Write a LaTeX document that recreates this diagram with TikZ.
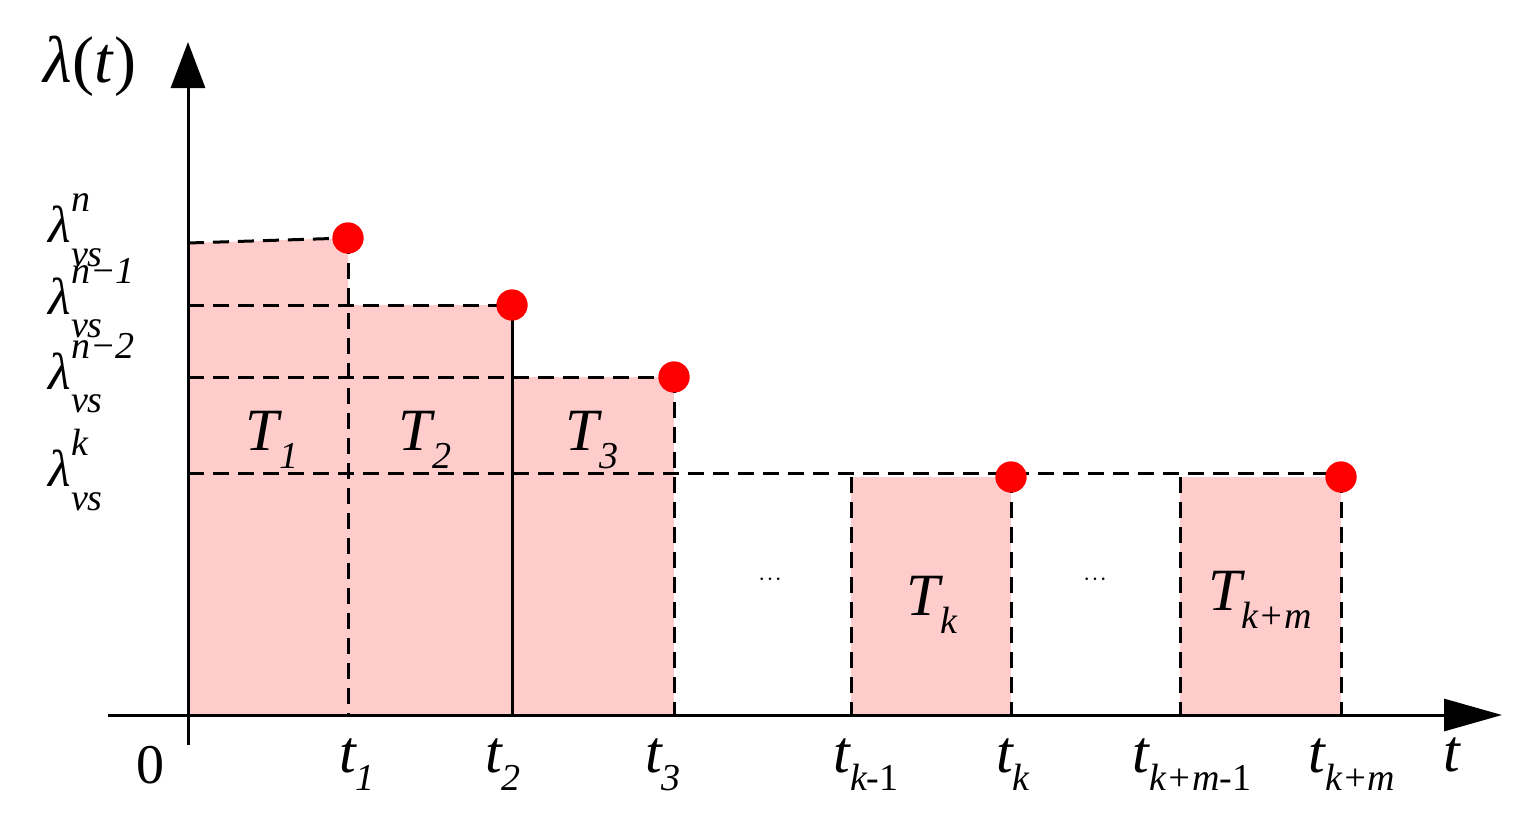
\documentclass[tikz,border=0pt]{standalone}
\usepackage{fontspec}
\setmainfont{Liberation Serif}
\usetikzlibrary{arrows.meta}
\definecolor{pinkfill}{RGB}{255,204,204}
\newcommand{\myss}[1]{{\fontsize{38}{38}\selectfont\itshape #1}}
\newcommand{\mysub}[1]{\raisebox{-0.3em}{\myss{#1}}}
\newcommand{\lam}[1]{\textit{λ}\rlap{\raisebox{0.6em}{\myss{#1}}}\raisebox{-0.45em}{\myss{vs}}}
\tikzset{
  dsh/.style={line width=3pt,dash pattern=on 16pt off 9pt},
  sol/.style={line width=3pt},
  pt/.style={circle,fill=red,inner sep=0pt,minimum size=31pt},
  big/.style={font=\fontsize{60}{60}\selectfont\itshape},
  lab/.style={font=\fontsize{52}{52}\selectfont},
}
\begin{document}
\begin{tikzpicture}[x=1pt,y=-1pt]
\useasboundingbox (0,0) rectangle (1525,819);
\fill[pinkfill] (188,243) -- (348,238) -- (348,715) -- (188,715) -- cycle;
\fill[pinkfill] (348,305) rectangle (512,715);
\fill[pinkfill] (512,377) rectangle (674,715);
\fill[pinkfill] (851,477) rectangle (1011,715);
\fill[pinkfill] (1180,477) rectangle (1341,715);
\node[pt] (d1) at (348,238) {};
\node[pt] (d2) at (512,305) {};
\node[pt] (d3) at (674,377) {};
\node[pt] (d4) at (1011,477) {};
\node[pt] (d5) at (1341,477) {};
\coordinate (b1) at (348,715); \coordinate (b2) at (512,715);
\coordinate (b3) at (674,715); \coordinate (b4) at (1011,715);
\coordinate (b5) at (1341,715);
\coordinate (l1) at (188,243); \coordinate (l2) at (188,305);
\coordinate (l3) at (188,377); \coordinate (l4) at (188,473);
\draw[dsh] (l1) -- (d1.center);
\draw[dsh] (l2) -- (d2.center);
\draw[dsh] (l3) -- (d3.center);
\draw[dsh] (l4) -- (1341,473);
\draw[dsh] (d1.center) -- (b1);
\draw[sol] (d2.center) -- (b2);
\draw[dsh] (d3.center) -- (b3);
\draw[dsh] (851,477) -- (851,715);
\draw[dsh] (d4.center) -- (b4);
\draw[dsh] (1180,477) -- (1180,715);
\draw[dsh] (d5.center) -- (b5);
\foreach \p in {(348,238),(512,305),(674,377),(1011,477),(1341,477)} \node[pt] at \p {};
\coordinate (o) at (188,745); \coordinate (ytip) at (188,42);
\coordinate (xs) at (108,715); \coordinate (xtip) at (1502,715);
\draw[sol,-{Triangle[length=46pt,width=34pt]}] (o) -- (ytip);
\draw[sol,-{Triangle[length=58pt,width=32pt]}] (xs) -- (xtip);
\node[font=\fontsize{66}{66}\selectfont] at (90,66) {\textit{λ}(\textit{t})};
\node[lab,anchor=west] (ln) at (45,230) {\lam{n}};
\node[lab,anchor=west] (ln1) at (45,298) {\lam{n−1}};
\node[lab,anchor=west] (ln2) at (45,373) {\lam{n−2}};
\node[lab,anchor=west] (lk) at (45,470) {\lam{k}};
\node[big] at (272,440) {T\mysub{1}};
\node[big] at (425,440) {T\mysub{2}};
\node[big] at (592,440) {T\mysub{3}};
\node[big] at (932,605) {T\mysub{k}};
\node[big] at (1260,600) {T\mysub{k+m}};
\node[font=\fontsize{60}{60}\selectfont] at (770,580) {$\cdot\!\cdot\!\cdot$};
\node[font=\fontsize{60}{60}\selectfont] at (1095,580) {$\cdot\!\cdot\!\cdot$};
\node[font=\fontsize{56}{56}\selectfont] at (150,765) {0};
\node[big] at (357,765) {t\mysub{1}};
\node[big] at (503,765) {t\mysub{2}};
\node[big] at (663,765) {t\mysub{3}};
\node[big] at (866,765) {t\mysub{k\upshape-1}};
\node[big] at (1013,765) {t\mysub{k}};
\node[big] at (1192,765) {t\mysub{k+m\upshape-1}};
\node[big] at (1352,765) {t\mysub{k+m}};
\node[big] at (1452,755) {t};
\end{tikzpicture}
\end{document}
